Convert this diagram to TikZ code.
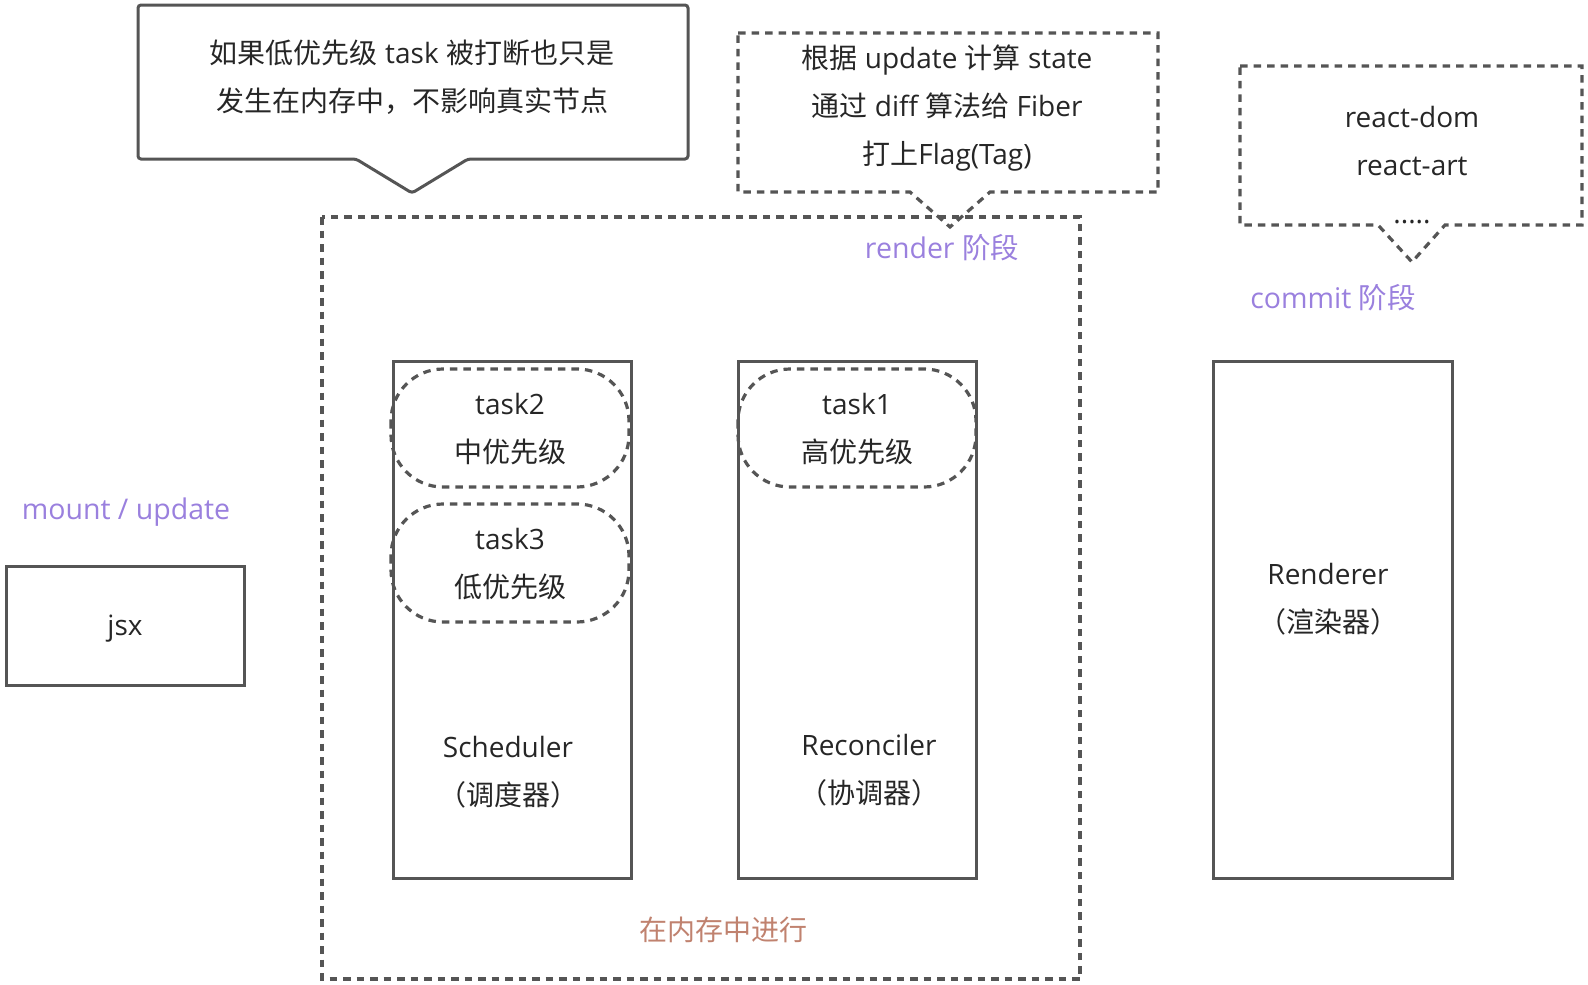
\documentclass[tikz,border=0pt]{standalone}
\usepackage{fontspec}
\setmainfont{Open Sans}
\newfontfamily\cjk{Noto Sans CJK SC}
\definecolor{linegray}{HTML}{555555}
\definecolor{txtgray}{HTML}{262626}
\definecolor{phase}{HTML}{9A80DE}
\definecolor{memo}{HTML}{C0826F}
\tikzset{
  solidbox/.style={draw=linegray, line width=3pt},
  dashbox/.style={draw=linegray, line width=3.2pt, dash pattern=on 7.5pt off 6pt},
  lbl/.style={text=txtgray, font=\fontsize{28}{48}\selectfont, align=center, inner sep=0pt},
  phaselbl/.style={text=phase, font=\fontsize{28.5}{30}\selectfont, inner sep=0pt},
}
\begin{document}
\begin{tikzpicture}[x=1pt,y=-1pt]
\useasboundingbox (0,0) rectangle (1588,985);
% top callout
\draw[solidbox, rounded corners=3pt] (138,5) -- (688,5) -- (688,159) -- (468,159) -- (412,193) -- (356,159) -- (138,159) -- cycle;
\node[lbl] (note1) at (412,77) {{\cjk 如果低优先级} task {\cjk 被打断也只是}\\{\cjk 发生在内存中，不影响真实节点}};
% render callout
\draw[dashbox] (738,33) -- (1158,33) -- (1158,192) -- (990,192) -- (950,227) -- (910,192) -- (738,192) -- cycle;
\node[lbl] (note2) at (947,108) {{\cjk 根据} update {\cjk 计算} state\\{\cjk 通过} diff {\cjk 算法给} Fiber\\{\cjk 打上}Flag(Tag)};
% commit callout
\draw[dashbox] (1240,66) -- (1582,66) -- (1582,225) -- (1445,225) -- (1412,262) -- (1378,225) -- (1240,225) -- cycle;
\node[lbl] (note3) at (1412,165) {react-dom\\react-art\\.....};
% render region
\draw[dashbox] (322,217) rectangle (1080,979);
\node[phaselbl] (renderlbl) at (942,248) {render {\cjk 阶段}};
\node[phaselbl] (commitlbl) at (1333,298) {commit {\cjk 阶段}};
\node[phaselbl] (mountlbl) at (126,512) {mount / update};
\node[text=memo, font=\fontsize{28}{30}\selectfont\cjk, inner sep=0pt] (memlbl) at (723,930) {在内存中进行};
% boxes
\draw[solidbox] (6,566) rectangle (244,685);
\node[lbl] (jsx) at (125,629) {jsx};
\draw[solidbox] (393,361) rectangle (631,878);
\draw[solidbox] (738,361) rectangle (976,878);
\draw[solidbox] (1213,361) rectangle (1452,878);
% tasks
\draw[dashbox, rounded corners=52pt] (391,369) rectangle (629,487);
\draw[dashbox, rounded corners=52pt] (391,504) rectangle (629,622);
\draw[dashbox, rounded corners=52pt] (738,369) rectangle (976,487);
\node[lbl] (task2) at (510,429) {task2\\{\cjk 中优先级}};
\node[lbl] (task3) at (510,564) {task3\\{\cjk 低优先级}};
\node[lbl] (task1) at (857,429) {task1\\{\cjk 高优先级}};
\node[lbl] (sched) at (508,772) {Scheduler\\{\cjk （调度器）}};
\node[lbl] (recon) at (869,770) {Reconciler\\{\cjk （协调器）}};
\node[lbl] (rend) at (1328,599) {Renderer\\{\cjk （渲染器）}};
\end{tikzpicture}
\end{document}
